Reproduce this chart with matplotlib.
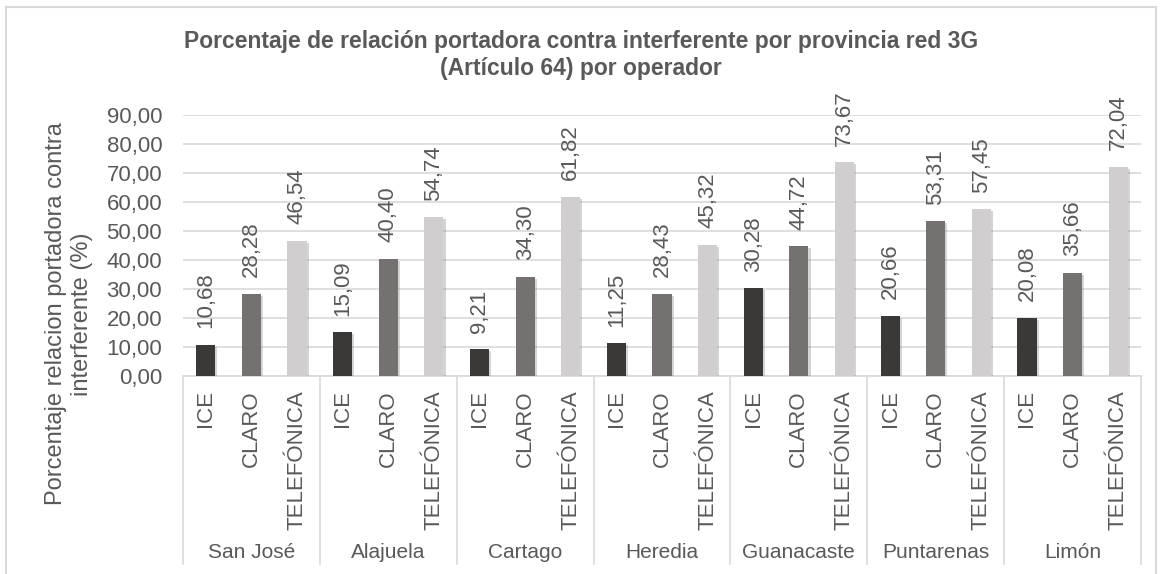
import numpy as np
import matplotlib.pyplot as plt
import matplotlib.patheffects as pe
from matplotlib.patches import Rectangle

plt.rcParams['font.family'] = ['Liberation Sans', 'DejaVu Sans']

# data
provincias = ["San José", "Alajuela", "Cartago", "Heredia", "Guanacaste", "Puntarenas", "Limón"]
operadores = ["ICE", "CLARO", "TELEFÓNICA"]
ice = [10.68, 15.09, 9.21, 11.25, 30.28, 20.66, 20.08]
claro = [28.28, 40.40, 34.30, 28.43, 44.72, 53.31, 35.66]
telefonica = [46.54, 54.74, 61.82, 45.32, 73.67, 57.45, 72.04]
yticks = [0, 10, 20, 30, 40, 50, 60, 70, 80, 90]

colores = ["#3b3838", "#767171", "#d0cece"]
txt = "#595959"
grid = "#d9d9d9"

W, H = 1162, 574
fig = plt.figure(figsize=(W / 100, H / 100), dpi=100)

# plot area in pixel terms
x0, x1, y0, y1 = 183, 1141, 376, 115
ax = fig.add_axes([x0 / W, 1 - y0 / H, (x1 - x0) / W, (y0 - y1) / H])

series = [ice, claro, telefonica]
n = len(provincias)
for j, vals in enumerate(series):
    xs = np.arange(n) * 3 + j + 0.5
    bars = ax.bar(xs, vals, width=0.42, color=colores[j], zorder=3)
    for b in bars:
        b.set_path_effects([pe.SimplePatchShadow(offset=(1.5, -1.5), shadow_rgbFace="#888888", alpha=0.35), pe.Normal()])
    for x, v in zip(xs, vals):
        ax.annotate(f"{v:.2f}".replace(".", ","), (x, v), xytext=(0, 12), textcoords="offset points",
                    rotation=90, ha="center", va="bottom", fontsize=16, color=txt, annotation_clip=False)

ax.set_xlim(0, 3 * n)
ax.set_ylim(0, 90)
ax.set_yticks(yticks)
ax.set_yticklabels([f"{t:.2f}".replace(".", ",") for t in yticks], fontsize=16, color=txt)
ax.tick_params(axis="y", length=0, pad=15)
ax.set_xticks([])
ax.grid(axis="y", color=grid, linewidth=1.2, zorder=0)
for s in ["top", "right", "left"]:
    ax.spines[s].set_visible(False)
ax.spines["bottom"].set_color(grid)
ax.spines["bottom"].set_linewidth(1.2)

# multi-level category axis
def fy(py):
    return 1 - py / H

def fx(dx):
    return (x0 + dx / (3 * n) * (x1 - x0)) / W

for i, prov in enumerate(provincias):
    for j, op in enumerate(operadores):
        fig.text(fx(i * 3 + j + 0.5), fy(390), op, rotation=90, ha="center", va="top",
                 fontsize=16, color=txt)
    fig.text(fx(i * 3 + 1.5), fy(552), prov, ha="center", va="center", fontsize=15, color=txt)
for i in range(n + 1):
    fig.add_artist(plt.Line2D([fx(i * 3)] * 2, [fy(376), fy(564)], color=grid, linewidth=1.2))

# titles
fig.text(0.5, fy(48), "Porcentaje de relación portadora contra interferente por provincia red 3G",
         ha="center", va="baseline", fontsize=16.5, fontweight="bold", color=txt)
fig.text(0.5, fy(75), "(Artículo 64) por operador",
         ha="center", va="baseline", fontsize=16.5, fontweight="bold", color=txt)
fig.text(69 / W, fy(314), "Porcentaje relacion portadora contra\ninterferente (%)", rotation=90,
         ha="center", va="center", fontsize=17, color=txt, linespacing=1.2)

# chart border
fig.add_artist(Rectangle((6 / W, -0.05), (1156 - 6) / W, fy(7) + 0.05, transform=fig.transFigure,
                         fill=False, edgecolor=grid, linewidth=1.5))

fig.savefig("out.png", dpi=100)
